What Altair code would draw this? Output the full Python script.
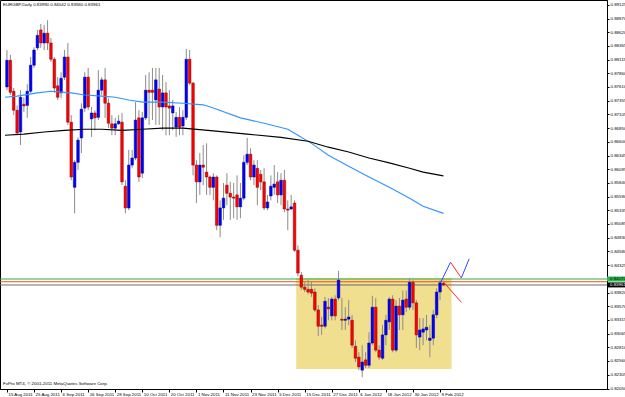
import altair as alt
import pandas as pd

# ---- candle data (EURGBP daily, 15 Aug 2011 .. 10 Feb 2012) ----
opens = [
    0.8761, 0.8810, 0.8753, 0.8718, 0.8678, 0.8729, 0.8727, 0.8753, 0.8801, 0.8833,
    0.8866, 0.8842, 0.8860, 0.8842, 0.8812, 0.8763, 0.8750, 0.8779, 0.8816, 0.8696,
    0.8576, 0.8622, 0.8667, 0.8722, 0.8779, 0.8702, 0.8713, 0.8705, 0.8755, 0.8774,
    0.8731, 0.8693, 0.8685, 0.8693, 0.8696, 0.8578, 0.8538, 0.8617, 0.8630, 0.8704,
    0.8602, 0.8704, 0.8755, 0.8755, 0.8737, 0.8757, 0.8724, 0.8750, 0.8726, 0.8713,
    0.8687, 0.8705, 0.8689, 0.8705, 0.8812, 0.8768, 0.8617, 0.8586, 0.8617, 0.8604,
    0.8595, 0.8576, 0.8595, 0.8506, 0.8538, 0.8580, 0.8565, 0.8558, 0.8562, 0.8540,
    0.8556, 0.8622, 0.8637, 0.8595, 0.8611, 0.8600, 0.8586, 0.8538, 0.8560, 0.8576,
    0.8586, 0.8562, 0.8589, 0.8536, 0.8536, 0.8547, 0.8460, 0.8414, 0.8392, 0.8388,
    0.8388, 0.8383, 0.8350, 0.8322, 0.8320, 0.8355, 0.8339, 0.8370, 0.8372, 0.8333,
    0.8331, 0.8333, 0.8331, 0.8283, 0.8263, 0.8239, 0.8258, 0.8248, 0.8289, 0.8355,
    0.8276, 0.8261, 0.8304, 0.8328, 0.8370, 0.8276, 0.8357, 0.8341, 0.8370, 0.8355,
    0.8401, 0.8363, 0.8300, 0.8309, 0.8313, 0.8294, 0.8298, 0.8341, 0.8383, 0.8399,
]
highs = [
    0.8829, 0.8820, 0.8759, 0.8727, 0.8755, 0.8742, 0.8766, 0.8816, 0.8834, 0.8866,
    0.8877, 0.8875, 0.8884, 0.8851, 0.8816, 0.8779, 0.8788, 0.8829, 0.8842, 0.8709,
    0.8626, 0.8668, 0.8731, 0.8788, 0.8796, 0.8724, 0.8718, 0.8792, 0.8779, 0.8796,
    0.8740, 0.8709, 0.8704, 0.8709, 0.8713, 0.8589, 0.8645, 0.8645, 0.8733, 0.8718,
    0.8715, 0.8783, 0.8788, 0.8796, 0.8796, 0.8796, 0.8783, 0.8770, 0.8755, 0.8737,
    0.8715, 0.8724, 0.8718, 0.8831, 0.8829, 0.8770, 0.8626, 0.8639, 0.8654, 0.8657,
    0.8598, 0.8602, 0.8598, 0.8552, 0.8584, 0.8602, 0.8586, 0.8584, 0.8598, 0.8584,
    0.8635, 0.8667, 0.8648, 0.8626, 0.8626, 0.8608, 0.8611, 0.8562, 0.8598, 0.8617,
    0.8604, 0.8602, 0.8608, 0.8552, 0.8562, 0.8552, 0.8469, 0.8420, 0.8401, 0.8405,
    0.8403, 0.8390, 0.8359, 0.8337, 0.8374, 0.8372, 0.8374, 0.8377, 0.8422, 0.8372,
    0.8355, 0.8368, 0.8341, 0.8294, 0.8272, 0.8285, 0.8272, 0.8309, 0.8376, 0.8372,
    0.8285, 0.8322, 0.8341, 0.8374, 0.8377, 0.8368, 0.8372, 0.8386, 0.8386, 0.8409,
    0.8405, 0.8368, 0.8335, 0.8335, 0.8341, 0.8322, 0.8350, 0.8390, 0.8405, 0.8404,
]
lows = [
    0.8755, 0.8746, 0.8709, 0.8672, 0.8654, 0.8715, 0.8704, 0.8750, 0.8796, 0.8829,
    0.8833, 0.8829, 0.8829, 0.8807, 0.8750, 0.8737, 0.8740, 0.8774, 0.8691, 0.8589,
    0.8528, 0.8608, 0.8639, 0.8715, 0.8718, 0.8669, 0.8681, 0.8700, 0.8746, 0.8704,
    0.8685, 0.8672, 0.8672, 0.8691, 0.8580, 0.8528, 0.8534, 0.8611, 0.8626, 0.8586,
    0.8593, 0.8700, 0.8691, 0.8700, 0.8691, 0.8691, 0.8681, 0.8672, 0.8672, 0.8681,
    0.8669, 0.8672, 0.8672, 0.8700, 0.8764, 0.8598, 0.8547, 0.8562, 0.8580, 0.8562,
    0.8562, 0.8552, 0.8497, 0.8484, 0.8516, 0.8543, 0.8516, 0.8519, 0.8516, 0.8519,
    0.8552, 0.8617, 0.8589, 0.8580, 0.8543, 0.8571, 0.8534, 0.8534, 0.8552, 0.8562,
    0.8547, 0.8543, 0.8530, 0.8497, 0.8534, 0.8457, 0.8412, 0.8387, 0.8383, 0.8379,
    0.8374, 0.8346, 0.8302, 0.8304, 0.8316, 0.8331, 0.8331, 0.8331, 0.8368, 0.8313,
    0.8313, 0.8322, 0.8280, 0.8254, 0.8239, 0.8226, 0.8243, 0.8243, 0.8285, 0.8272,
    0.8258, 0.8258, 0.8285, 0.8313, 0.8272, 0.8272, 0.8313, 0.8313, 0.8346, 0.8350,
    0.8350, 0.8280, 0.8276, 0.8285, 0.8294, 0.8263, 0.8285, 0.8335, 0.8368, 0.8394,
]
closes = [
    0.8810, 0.8751, 0.8718, 0.8676, 0.8742, 0.8726, 0.8753, 0.8801, 0.8829, 0.8856,
    0.8842, 0.8860, 0.8842, 0.8812, 0.8759, 0.8742, 0.8777, 0.8816, 0.8696, 0.8595,
    0.8622, 0.8663, 0.8720, 0.8779, 0.8724, 0.8713, 0.8704, 0.8755, 0.8774, 0.8731,
    0.8694, 0.8685, 0.8693, 0.8698, 0.8586, 0.8538, 0.8617, 0.8630, 0.8700, 0.8595,
    0.8704, 0.8755, 0.8751, 0.8751, 0.8774, 0.8724, 0.8750, 0.8724, 0.8722, 0.8726,
    0.8705, 0.8687, 0.8705, 0.8812, 0.8768, 0.8617, 0.8586, 0.8617, 0.8613, 0.8595,
    0.8576, 0.8595, 0.8506, 0.8538, 0.8556, 0.8565, 0.8558, 0.8556, 0.8540, 0.8556,
    0.8622, 0.8637, 0.8595, 0.8617, 0.8576, 0.8586, 0.8538, 0.8549, 0.8578, 0.8582,
    0.8562, 0.8589, 0.8536, 0.8534, 0.8540, 0.8460, 0.8418, 0.8392, 0.8388, 0.8383,
    0.8381, 0.8350, 0.8320, 0.8320, 0.8366, 0.8352, 0.8370, 0.8339, 0.8405, 0.8331,
    0.8333, 0.8337, 0.8285, 0.8261, 0.8245, 0.8254, 0.8248, 0.8289, 0.8355, 0.8276,
    0.8263, 0.8304, 0.8331, 0.8370, 0.8276, 0.8357, 0.8341, 0.8368, 0.8355, 0.8401,
    0.8363, 0.8304, 0.8313, 0.8315, 0.8318, 0.8298, 0.8341, 0.8383, 0.8400, 0.8396,
]

# ---- moving averages (bar index, value) ----
ma_fast_i = [-0.58, 3, 9, 13, 17, 19, 23, 28, 32, 36, 40, 46, 52, 58, 61, 69, 76, 83, 86, 90, 95, 101, 107, 113, 119, 123, 129]
ma_fast_v = [0.8742, 0.8744, 0.8750, 0.8753, 0.8751, 0.8750, 0.8746, 0.8744, 0.8742, 0.8737, 0.8733, 0.8733, 0.8731,
             0.8728, 0.8722, 0.8704, 0.8694, 0.8683, 0.8672, 0.8657, 0.8635, 0.8615, 0.8595, 0.8576, 0.8556, 0.8541, 0.8528]
ma_slow_i = [-0.58, 5, 11, 17, 23, 28, 34, 40, 46, 52, 61, 71, 81, 89, 95, 101, 107, 113, 119, 123, 129]
ma_slow_v = [0.8672, 0.8674, 0.8678, 0.8681, 0.8683, 0.8683, 0.8681, 0.8683, 0.8685, 0.8685, 0.8680, 0.8674,
             0.8668, 0.8661, 0.8650, 0.8641, 0.8630, 0.8621, 0.8611, 0.8604, 0.8597]

# ---- objects ----
box_i = [85.5, 131.4]
box_p = [0.8409, 0.8241]
hline_p = [0.8407, 0.8402, 0.8396]
hline_c = ["#22B14C", "#FF4A1C", "#6E6E6E"]
zig_seg = ["a", "a", "b", "b", "c", "c", "d", "d"]
zig_i = [128.2, 131.1, 131.1, 134.3, 134.3, 136.6, 129.1, 134.3]
zig_p = [0.8401, 0.8438, 0.8438, 0.8409, 0.8409, 0.8444, 0.8401, 0.8364]
zig_c = ["#2A4BFF", "#2A4BFF", "#FF2A2A", "#FF2A2A", "#2A4BFF", "#2A4BFF", "#FF2A2A", "#FF2A2A"]

date_labels = ["15 Aug 2011", "25 Aug 2011", "6 Sep 2011", "16 Sep 2011", "28 Sep 2011", "10 Oct 2011",
               "20 Oct 2011", "1 Nov 2011", "11 Nov 2011", "23 Nov 2011", "5 Dec 2011", "15 Dec 2011",
               "27 Dec 2011", "6 Jan 2012", "18 Jan 2012", "30 Jan 2012", "9 Feb 2012"]
date_ticks = [8 * k for k in range(len(date_labels))]
price_ticks = [0.89125, 0.88870, 0.88620, 0.88365, 0.88115, 0.87860, 0.87610, 0.87355, 0.87105, 0.86850,
               0.86600, 0.86345, 0.86095, 0.85840, 0.85590, 0.85335, 0.85085, 0.84830, 0.84580, 0.84325,
               0.83820, 0.83570, 0.83315, 0.83065, 0.82810, 0.82560, 0.82305, 0.82050]
price_tags = [("0.84070", 0.8407, "#2DB84D", "#000000"), ("0.83961", 0.83961, "#000000", "#FFFFFF")]

header = "EURGBP,Daily  0.83990 0.84042 0.83940 0.83961"
footer = "FxPro MT4, \u00a9 2001-2011 MetaQuotes Software Corp."

# ---- frames ----
df = pd.DataFrame({"i": list(range(len(opens))), "open": opens, "high": highs, "low": lows, "close": closes})
df["dir"] = ["up" if c >= o else "down" for o, c in zip(opens, closes)]
ma_fast = pd.DataFrame({"i": ma_fast_i, "v": ma_fast_v})
ma_slow = pd.DataFrame({"i": ma_slow_i, "v": ma_slow_v})
box = pd.DataFrame({"i": [box_i[0]], "i2": [box_i[1]], "p": [box_p[0]], "p2": [box_p[1]]})
hl = pd.DataFrame({"p": hline_p, "c": hline_c})
zig = pd.DataFrame({"seg": zig_seg, "i": zig_i, "p": zig_p, "c": zig_c})
tags = pd.DataFrame(price_tags, columns=["t", "p", "bg", "fg"])

FONT = "Liberation Sans"
FS = 4.4

label_js = "[" + ",".join("'%s'" % s for s in date_labels) + "][round(datum.value/8)]"
xscale = alt.Scale(domain=[-0.58, 175.87], nice=False, zero=False)
yscale = alt.Scale(domain=[0.82043, 0.89212], nice=False, zero=False)
xaxis = alt.Axis(orient="bottom", values=date_ticks, labelExpr=label_js, title=None, grid=False,
                 tickSize=3, tickColor="#000", domainColor="#000", labelAlign="left", labelBaseline="top",
                 labelPadding=0.5, labelOffset=1, labelFontSize=FS, labelFont=FONT, labelColor="#000",
                 labelFlush=False, labelOverlap=False)
yaxis = alt.Axis(orient="right", values=price_ticks, labelExpr="format(datum.value, '.5f')", title=None,
                 grid=False, tickSize=2, tickColor="#000", domainColor="#000", labelFontSize=FS,
                 labelFont=FONT, labelColor="#000", labelPadding=1, labelFlush=False, labelOverlap=False,
                 labelBaseline="middle")


def X(f="i"):
    return alt.X(f + ":Q", scale=xscale, axis=xaxis)


def Y(f):
    return alt.Y(f + ":Q", scale=yscale, axis=yaxis)


box_layer = alt.Chart(box).mark_rect(color="#EFDF8E").encode(x=X(), x2="i2:Q", y=Y("p"), y2="p2:Q")
hl_layer = alt.Chart(hl).mark_rule(strokeWidth=1).encode(y=Y("p"), color=alt.Color("c:N", scale=None))
wick = alt.Chart(df).mark_rule(color="#8C8C8C", strokeWidth=1).encode(x=X(), y=Y("low"), y2="high:Q")
body = alt.Chart(df).mark_bar(width=2.6, strokeWidth=0.5).encode(
    x=X(), y=Y("open"), y2="close:Q",
    fill=alt.Fill("dir:N", scale=alt.Scale(domain=["up", "down"], range=["#0000FF", "#FF0000"]), legend=None),
    stroke=alt.Stroke("dir:N", scale=alt.Scale(domain=["up", "down"], range=["#000090", "#900000"]), legend=None),
)
fast = alt.Chart(ma_fast).mark_line(color="#2F95FF", strokeWidth=1.1).encode(x=X(), y=Y("v"))
slow = alt.Chart(ma_slow).mark_line(color="#000000", strokeWidth=1.1).encode(x=X(), y=Y("v"))
zig_layer = alt.Chart(zig).mark_line(strokeWidth=1).encode(
    x=X(), y=Y("p"), detail="seg:N", color=alt.Color("c:N", scale=None))

tag_bg = alt.Chart(tags).mark_rect().transform_calculate(
    top="datum.p + 0.00046", bot="datum.p - 0.00046").encode(
    x=alt.value(607), x2=alt.value(625), y=alt.Y("top:Q", scale=yscale, axis=yaxis), y2="bot:Q",
    fill=alt.Fill("bg:N", scale=None))
tag_txt = alt.Chart(tags).mark_text(align="left", baseline="middle", font=FONT, fontSize=FS).encode(
    x=alt.value(610), y=Y("p"), text="t:N", color=alt.Color("fg:N", scale=None))

head = alt.Chart(pd.DataFrame({"t": [header]})).mark_text(
    align="left", baseline="middle", font=FONT, fontSize=FS, color="#000").encode(
    x=alt.value(3), y=alt.value(5), text="t:N")
foot = alt.Chart(pd.DataFrame({"t": [footer]})).mark_text(
    align="left", baseline="middle", font=FONT, fontSize=FS, color="#000").encode(
    x=alt.value(3), y=alt.value(384), text="t:N")

chart = alt.layer(box_layer, hl_layer, wick, body, fast, slow, zig_layer, tag_bg, tag_txt, head, foot).properties(
    width=607, height=389, padding={"left": 0, "top": 0, "right": 18, "bottom": 8}, autosize="none",
    background="#FFFFFF",
).configure_view(stroke="#000000", strokeWidth=1)

chart.save("out.html", embed_options={"renderer": "svg", "actions": False})
